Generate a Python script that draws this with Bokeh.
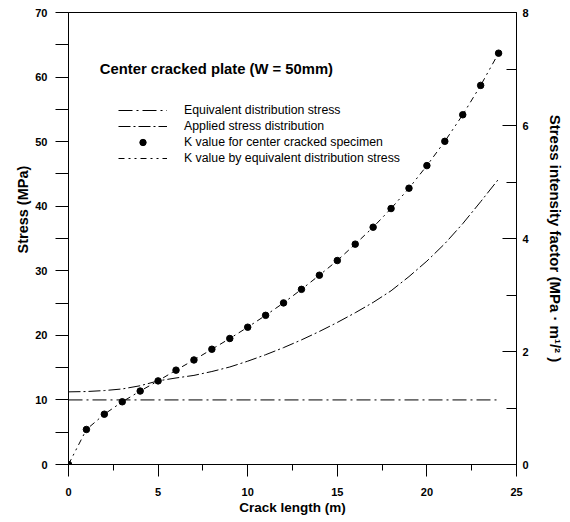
from bokeh.plotting import figure
from bokeh.models import Range1d, LinearAxis, FixedTicker, Legend, LegendItem, Label, Title
from bokeh.embed import file_html
from bokeh.resources import INLINE

# ---- data ----
crack = [0, 1, 2, 3, 4, 5, 6, 7, 8, 9, 10, 11, 12, 13, 14, 15, 16, 17, 18, 19, 20, 21, 22, 23, 24]
k_specimen = [0, 0.62, 0.89, 1.11, 1.30, 1.48, 1.67, 1.85, 2.04, 2.23, 2.43, 2.64, 2.86,
              3.10, 3.35, 3.61, 3.90, 4.20, 4.53, 4.89, 5.29, 5.72, 6.19, 6.71, 7.28]
k_equiv = [0, 0.62, 0.89, 1.11, 1.30, 1.48, 1.67, 1.85, 2.04, 2.23, 2.43, 2.64, 2.86,
           3.10, 3.35, 3.61, 3.90, 4.20, 4.53, 4.89, 5.29, 5.72, 6.19, 6.71, 7.28]
applied_stress = [11.25, 11.3, 11.45, 11.7, 12.2, 12.95, 13.4, 13.8, 14.4, 15.1, 16.0, 17.0, 18.1,
                  19.3, 20.6, 22.0, 23.5, 25.1, 26.9, 29.1, 31.5, 34.2, 37.3, 40.7, 44.2]
equiv_x = [0, 24]
equiv_stress = [10, 10]

x_ticks = [0, 5, 10, 15, 20, 25]
x_minor = [2.5, 7.5, 12.5, 17.5, 22.5]
y_ticks = [0, 10, 20, 30, 40, 50, 60, 70]
y_minor = [5, 15, 25, 35, 45, 55, 65]
k_ticks = [0, 2, 4, 6, 8]
k_minor = [1, 3, 5, 7]

FONT = "Liberation Sans"

p = figure(width=566, height=520, x_range=Range1d(0, 25), y_range=Range1d(0, 70),
           output_backend="svg", toolbar_location=None,
           min_border_left=68, min_border_right=47, min_border_top=12, min_border_bottom=56)
p.extra_y_ranges = {"k": Range1d(0, 8)}

p.xgrid.visible = False
p.ygrid.visible = False
p.outline_line_color = "black"
p.outline_line_width = 1
p.background_fill_color = "white"
p.border_fill_color = "white"

# bottom axis
xa = p.xaxis[0]
xa.ticker = FixedTicker(ticks=x_ticks, minor_ticks=x_minor)
xa.axis_label = "Crack length (m)"
xa.major_tick_in = 0
xa.major_tick_out = 12
xa.minor_tick_in = 0
xa.minor_tick_out = 6
xa.major_label_standoff = 11
xa.axis_label_standoff = 1

# left axis (its title is a side Title so it can sit above centre, as in the source)
ya = p.yaxis[0]
ya.ticker = FixedTicker(ticks=y_ticks, minor_ticks=y_minor)
ya.major_tick_in = 0
ya.major_tick_out = 13
ya.minor_tick_in = 0
ya.minor_tick_out = 13
ya.major_label_standoff = 8

# right axis
ra = LinearAxis(y_range_name="k", ticker=FixedTicker(ticks=k_ticks, minor_ticks=k_minor))
ra.axis_label = "Stress intensity factor (MPa \u00b7 m\u00b9/\u00b2 )"
ra.major_tick_in = 14
ra.major_tick_out = 0
ra.minor_tick_in = 10
ra.minor_tick_out = 0
ra.major_label_standoff = 6
ra.axis_label_standoff = 15
p.add_layout(ra, "right")

for ax in (xa, ya, ra):
    ax.axis_line_color = "black"
    ax.major_tick_line_color = "black"
    ax.minor_tick_line_color = "black"
    ax.major_label_text_font = FONT
    ax.major_label_text_font_size = "11px"
    ax.major_label_text_font_style = "bold"
    ax.major_label_text_color = "black"
    ax.axis_label_text_font = FONT
    ax.axis_label_text_font_style = "bold"
    ax.axis_label_text_color = "black"
xa.axis_label_text_font_size = "13.5px"
ra.axis_label_text_font_size = "15px"

ylab = Title(text="Stress (MPa)", align="left", offset=211, standoff=4, text_font=FONT,
             text_font_size="14.5px", text_font_style="bold", text_color="black")
p.add_layout(ylab, "left")

# series
r_equiv = p.line(equiv_x, equiv_stress, line_color="black", line_width=1, line_dash="14 4 2 4")
r_applied = p.line(crack, applied_stress, line_color="black", line_width=1, line_dash="12 3 2 3")
r_dots = p.scatter(crack, k_specimen, y_range_name="k", size=6.5, color="black")
r_kline = p.line(crack, k_equiv, y_range_name="k", line_color="black", line_width=1,
                 line_dash="6 4 2 4 2 4")

legend = Legend(items=[
    LegendItem(label="Equivalent distribution stress", renderers=[r_equiv]),
    LegendItem(label="Applied stress distribution", renderers=[r_applied]),
    LegendItem(label="K value for center cracked specimen", renderers=[r_dots]),
    LegendItem(label="K value by equivalent distribution stress", renderers=[r_kline]),
], location=(50, 298))
legend.glyph_width = 49
legend.glyph_height = 16
legend.label_height = 16
legend.label_standoff = 17
legend.spacing = 0
legend.padding = 0
legend.margin = 0
legend.border_line_color = None
legend.background_fill_alpha = 0
legend.label_text_font = FONT
legend.label_text_font_size = "12.3px"
legend.label_text_color = "black"
p.add_layout(legend, "center")

title = Label(x=1.75, y=61.3, text="Center cracked plate (W = 50mm)", text_font=FONT,
              text_font_size="14.8px", text_font_style="bold", text_baseline="middle",
              text_color="black")
p.add_layout(title)

open("out.html", "w").write(file_html(p, INLINE))
